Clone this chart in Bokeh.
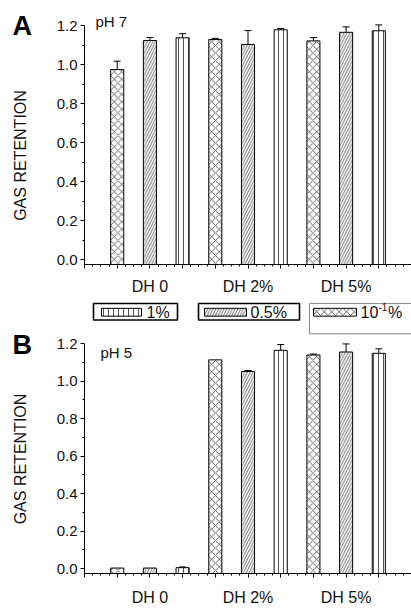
import math
from bokeh.plotting import figure
from bokeh.layouts import column, row
from bokeh.models import (ColumnDataSource, Range1d, FixedTicker, Whisker, TeeHead,
                          NumeralTickFormatter)
from bokeh.core.properties import value
from bokeh.embed import file_html
from bokeh.resources import INLINE

# ---------------- data ----------------
groups = ["DH 0", "DH 2%", "DH 5%"]
series = ["10\u207b\u00b9%", "0.5%", "1%"]   # order of bars inside each group

ph7_cross = [0.974, 1.128, 1.121]
ph7_cross_err = [0.043, 0.006, 0.017]
ph7_diag = [1.123, 1.103, 1.165]
ph7_diag_err = [0.015, 0.071, 0.028]
ph7_vert = [1.137, 1.178, 1.173]
ph7_vert_err = [0.021, 0.007, 0.030]

ph5_cross = [0.003, 1.113, 1.139]
ph5_cross_err = [0.0, 0.0, 0.005]
ph5_diag = [0.003, 1.051, 1.155]
ph5_diag_err = [0.0, 0.005, 0.043]
ph5_vert = [0.005, 1.164, 1.148]
ph5_vert_err = [0.004, 0.031, 0.024]

y_ticks = [0.0, 0.2, 0.4, 0.6, 0.8, 1.0, 1.2]
y_minor = [0.1, 0.3, 0.5, 0.7, 0.9, 1.1]

# ---------------- layout / style ----------------
FONT = "Liberation Sans"
STRIP_W = 50
PANEL_W = 361
FRAME_LEFT = 34           # frame starts at page x = 84
PX_PER_X = 32.7
X_END = (PANEL_W - FRAME_LEFT) / PX_PER_X
BAR_W = 0.4
YTOP = 1.2

STYLES = [
    dict(hatch_pattern="diagonal_cross", hatch_scale=7.5, hatch_weight=0.7, hatch_color="#222222"),
    dict(hatch_pattern="right_diagonal_line", hatch_scale=5.5, hatch_weight=0.8, hatch_color="#444444"),
    dict(hatch_pattern="vertical_line", hatch_scale=5, hatch_weight=1.0, hatch_color="#555555"),
]


def make_panel(vals, errs, height, zero_px, top_px, axis_px, label_standoff,
               ph_text, ph_left, ph_mid, legend=False):
    """zero_px / top_px: figure-pixel rows of y=0 and y=1.2; axis_px: row of x axis."""
    ppu = (zero_px - top_px) / YTOP
    y_start = -(axis_px - zero_px) / ppu
    y_end = YTOP + top_px / ppu
    bottom_border = height - axis_px

    def ydat(px):
        return (zero_px - px) / ppu

    def xdat(px):   # px in page coordinates
        return (px - (STRIP_W + FRAME_LEFT)) / PX_PER_X

    p = figure(width=PANEL_W, height=height, output_backend="svg", toolbar_location=None,
               x_range=Range1d(0, X_END), y_range=Range1d(y_start, y_end),
               min_border_left=FRAME_LEFT, min_border_right=0,
               min_border_top=0, min_border_bottom=bottom_border)
    p.outline_line_color = None
    p.xgrid.visible = False
    p.ygrid.visible = False

    if legend:
        # three boxed legend entries: 1%, 0.5%, 10^-1%   (page-x, figure-y pixels)
        order = [2, 1, 0]
        box_l = [93, 198, 309]
        box_r = [177, 299, 430]
        box_b = [20, 20, 34]
        box_c = ["black", "black", "#888888"]
        box_w = [1.6, 1.6, 1.0]
        sw_l = [101, 204, 313]
        sw_r = [141, 246, 356]
        tx = [146, 250, 360]
        for i, s in enumerate(order):
            p.quad(left=[xdat(box_l[i])], right=[xdat(box_r[i])], top=[ydat(3)],
                   bottom=[ydat(box_b[i])], fill_color="white",
                   line_color=box_c[i], line_width=box_w[i])
            p.quad(left=[xdat(sw_l[i])], right=[xdat(sw_r[i])], top=[ydat(8)],
                   bottom=[ydat(16)], fill_color="white", line_color="black",
                   line_width=1, **STYLES[s])
            if s == 0:
                parts = [("10", 0, "16px", 0), ("-1", 18, "10px", -5), ("%", 27.5, "16px", 0)]
            else:
                parts = [(series[s], 0, "16px", 0)]
            for txt, dx, fs, dy in parts:
                p.text(x=[xdat(tx[i] + dx)], y=[ydat(12 + dy)], text=[txt],
                       text_font=value(FONT), text_font_size=fs,
                       text_baseline="middle", text_align="left",
                       text_color="#111111")

    for s in range(3):
        xs = [1 + 3 * g + s for g in range(len(groups))]
        src = ColumnDataSource(dict(x=xs, top=vals[s]))
        p.vbar(x="x", top="top", bottom=y_start, width=BAR_W, source=src,
               fill_color="white", line_color="black", line_width=1, **STYLES[s])
        ex = [x for x, e in zip(xs, errs[s]) if e > 0]
        lo = [v for v, e in zip(vals[s], errs[s]) if e > 0]
        up = [v + e for v, e in zip(vals[s], errs[s]) if e > 0]
        esrc = ColumnDataSource(dict(x=ex, lower=lo, upper=up))
        p.add_layout(Whisker(base="x", lower="lower", upper="upper", source=esrc,
                             line_color="black", line_width=1, lower_head=None,
                             upper_head=TeeHead(size=7, line_color="black", line_width=1)))

    # x axis
    xt = list(range(0, 11))
    p.xaxis.ticker = FixedTicker(ticks=xt, minor_ticks=[i * 0.25 for i in range(0, 41)])
    overrides = {t: "" for t in xt}
    for g, name in enumerate(groups):
        overrides[2 + 3 * g] = name
    p.xaxis.major_label_overrides = overrides
    p.xaxis.major_label_text_font = FONT
    p.xaxis.major_label_text_font_size = "16px"
    p.xaxis.major_label_text_color = "#111111"
    p.xaxis.major_label_standoff = label_standoff
    p.xaxis.major_tick_in = 0
    p.xaxis.major_tick_out = 4
    p.xaxis.minor_tick_in = 0
    p.xaxis.minor_tick_out = 2
    p.xaxis.axis_line_color = "black"

    # y axis
    p.yaxis.ticker = FixedTicker(ticks=y_ticks, minor_ticks=y_minor)
    p.yaxis.formatter = NumeralTickFormatter(format="0.0")
    p.yaxis.bounds = (y_start, YTOP)
    p.yaxis.major_label_text_font = FONT
    p.yaxis.major_label_text_font_size = "15px"
    p.yaxis.major_label_text_color = "#111111"
    p.yaxis.major_label_standoff = 3
    p.yaxis.major_tick_in = 0
    p.yaxis.major_tick_out = 4
    p.yaxis.minor_tick_in = 0
    p.yaxis.minor_tick_out = 2
    p.yaxis.axis_line_color = "black"

    p.text(x=[xdat(ph_left)], y=[ydat(ph_mid)], text=[ph_text], text_font=value(FONT),
           text_font_size="15px", text_baseline="middle", text_align="left",
           text_color="#111111")
    return p


def make_strip(height, axis_px, tag, tag_mid, ylab_center):
    s = figure(width=STRIP_W, height=height, output_backend="svg", toolbar_location=None,
               x_range=Range1d(0, STRIP_W), y_range=Range1d(0, axis_px),
               x_axis_location=None, y_axis_location=None,
               min_border_left=0, min_border_right=0, min_border_top=0,
               min_border_bottom=height - axis_px)
    s.outline_line_color = None
    s.xgrid.visible = False
    s.ygrid.visible = False
    s.text(x=[12], y=[axis_px - tag_mid], text=[tag], text_font=value(FONT),
           text_font_style="bold", text_font_size="27px", text_baseline="middle",
           text_align="left", text_color="black")
    s.text(x=[20], y=[axis_px - ylab_center], text=["GAS RETENTION"], text_font=value(FONT),
           text_font_size="16px", angle=math.pi / 2, text_align="center",
           text_baseline="middle", text_color="#111111")
    return s


# panel A occupies page rows 0..300, panel B rows 300..608
pA = make_panel([ph7_cross, ph7_diag, ph7_vert], [ph7_cross_err, ph7_diag_err, ph7_vert_err],
                height=300, zero_px=259, top_px=25, axis_px=264, label_standoff=9,
                ph_text="pH 7", ph_left=95, ph_mid=21)
sA = make_strip(300, 264, "A", 25, 155)

pB = make_panel([ph5_cross, ph5_diag, ph5_vert], [ph5_cross_err, ph5_diag_err, ph5_vert_err],
                height=308, zero_px=274, top_px=44, axis_px=279, label_standoff=11,
                ph_text="pH 5", ph_left=100, ph_mid=53, legend=True)
sB = make_strip(308, 279, "B", 45, 162)

layout = column(row(sA, pA, spacing=0), row(sB, pB, spacing=0), spacing=0)
open("out.html", "w").write(file_html(layout, INLINE))
